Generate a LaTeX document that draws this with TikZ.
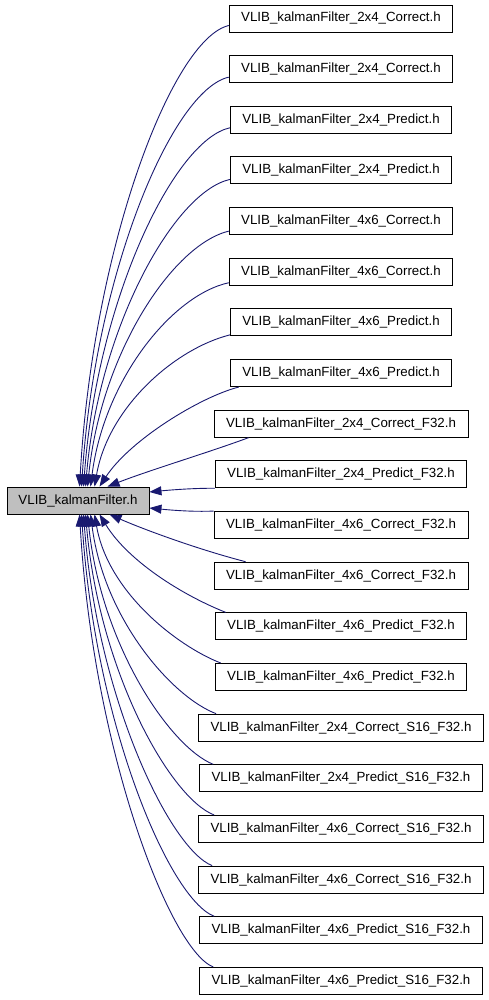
\documentclass[tikz,border=0pt]{standalone}
\usepackage{fontspec}
\setmainfont{Liberation Sans}
\usetikzlibrary{arrows.meta,calc}
\definecolor{edgecol}{HTML}{191970}
\definecolor{mainfill}{HTML}{BFBFBF}
\begin{document}
\begin{tikzpicture}[x=1pt,y=-1pt,
  box/.style={draw=black, line width=0.9pt, inner xsep=12pt, inner ysep=0pt,
    minimum height=27pt, font=\fontsize{13.3}{16}\selectfont, text=black},
  mainbox/.style={box, fill=mainfill, minimum width=142pt, inner xsep=0pt},
  edge/.style={draw=edgecol, line width=0.9pt, -{Triangle[length=12pt,width=9pt]}}]
\useasboundingbox (0,0) rectangle (488,1000);
\node[mainbox] (main) at (78,500.5) {VLIB\_kalmanFilter.h};
\node[box] (b1) at (341,18.5) {VLIB\_kalmanFilter\_2x4\_Correct.h};
\node[box] (b2) at (341,69.15) {VLIB\_kalmanFilter\_2x4\_Correct.h};
\node[box] (b3) at (341,119.8) {VLIB\_kalmanFilter\_2x4\_Predict.h};
\node[box] (b4) at (341,170.45) {VLIB\_kalmanFilter\_2x4\_Predict.h};
\node[box] (b5) at (341,221.1) {VLIB\_kalmanFilter\_4x6\_Correct.h};
\node[box] (b6) at (341,271.75) {VLIB\_kalmanFilter\_4x6\_Correct.h};
\node[box] (b7) at (341,322.4) {VLIB\_kalmanFilter\_4x6\_Predict.h};
\node[box] (b8) at (341,373.05) {VLIB\_kalmanFilter\_4x6\_Predict.h};
\node[box] (b9) at (341,423.7) {VLIB\_kalmanFilter\_2x4\_Correct\_F32.h};
\node[box] (b10) at (341,474.35) {VLIB\_kalmanFilter\_2x4\_Predict\_F32.h};
\node[box] (b11) at (341,525) {VLIB\_kalmanFilter\_4x6\_Correct\_F32.h};
\node[box] (b12) at (341,575.65) {VLIB\_kalmanFilter\_4x6\_Correct\_F32.h};
\node[box] (b13) at (341,626.3) {VLIB\_kalmanFilter\_4x6\_Predict\_F32.h};
\node[box] (b14) at (341,676.95) {VLIB\_kalmanFilter\_4x6\_Predict\_F32.h};
\node[box] (b15) at (341,727.6) {VLIB\_kalmanFilter\_2x4\_Correct\_S16\_F32.h};
\node[box] (b16) at (341,778.25) {VLIB\_kalmanFilter\_2x4\_Predict\_S16\_F32.h};
\node[box] (b17) at (341,828.9) {VLIB\_kalmanFilter\_4x6\_Correct\_S16\_F32.h};
\node[box] (b18) at (341,879.55) {VLIB\_kalmanFilter\_4x6\_Correct\_S16\_F32.h};
\node[box] (b19) at (341,930.2) {VLIB\_kalmanFilter\_4x6\_Predict\_S16\_F32.h};
\node[box] (b20) at (341,980.85) {VLIB\_kalmanFilter\_4x6\_Predict\_S16\_F32.h};
% upper edges
\draw[edge] ($(b1.west)+(0,7)$) .. controls (172,39) and (93,247) .. ($(main.north west)+(73,0)$);
\draw[edge] ($(b2.west)+(0,8)$) .. controls (172,90) and (95,274) .. ($(main.north west)+(75,0)$);
\draw[edge] ($(b3.west)+(0,8)$) .. controls (174,140) and (97,300) .. ($(main.north west)+(77,0)$);
\draw[edge] ($(b4.west)+(0,9)$) .. controls (174,192) and (99,327) .. ($(main.north west)+(79,0)$);
\draw[edge] ($(b5.west)+(0,10)$) .. controls (172,245) and (101,354) .. ($(main.north west)+(81,0)$);
\draw[edge] ($(b6.west)+(0,11)$) .. controls (172,295) and (104,380) .. ($(main.north west)+(84,0)$);
\draw[edge] ($(b7.west)+(0,12.5)$) .. controls (174,349) and (108,408) .. ($(main.north west)+(88,0)$);
\draw[edge] ($(b8.south west)+(9,0)$) .. controls (200,397) and (130,440) .. ($(main.north west)+(93,0)$);
\draw[edge] ($(b9.south west)+(35,0)$) .. controls (210,452) and (150,470) .. ($(main.north west)+(101,0)$);
% middle edges
\draw[edge] (b10.south west) .. controls (195,488) and (170,490) .. ($(main.east)+(0,-8.5)$);
\draw[edge] (b11.north west) .. controls (192,512) and (170,510) .. ($(main.east)+(0,7.5)$);
% lower edges
\draw[edge] ($(b12.north west)+(32,0)$) .. controls (200,550) and (145,530) .. ($(main.south west)+(103,0)$);
\draw[edge] ($(b13.north west)+(11,0)$) .. controls (182,595) and (128,561) .. ($(main.south west)+(93,0)$);
\draw[edge] ($(b14.north west)+(6,0)$) .. controls (177,646) and (108,592) .. ($(main.south west)+(88,0)$);
\draw[edge] ($(b15.north west)+(18,0)$) .. controls (172,697) and (104,619) .. ($(main.south west)+(84,0)$);
\draw[edge] ($(b16.north west)+(14,0)$) .. controls (170,747) and (101,645) .. ($(main.south west)+(81,0)$);
\draw[edge] ($(b17.north west)+(16,0)$) .. controls (170,798) and (99,671) .. ($(main.south west)+(79,0)$);
\draw[edge] ($(b18.north west)+(14,0)$) .. controls (170,849) and (97,698) .. ($(main.south west)+(77,0)$);
\draw[edge] ($(b19.north west)+(15,0)$) .. controls (169,899) and (95,723) .. ($(main.south west)+(75,0)$);
\draw[edge] ($(b20.north west)+(14,0)$) .. controls (170,950) and (93,750) .. ($(main.south west)+(73,0)$);
\end{tikzpicture}
\end{document}
